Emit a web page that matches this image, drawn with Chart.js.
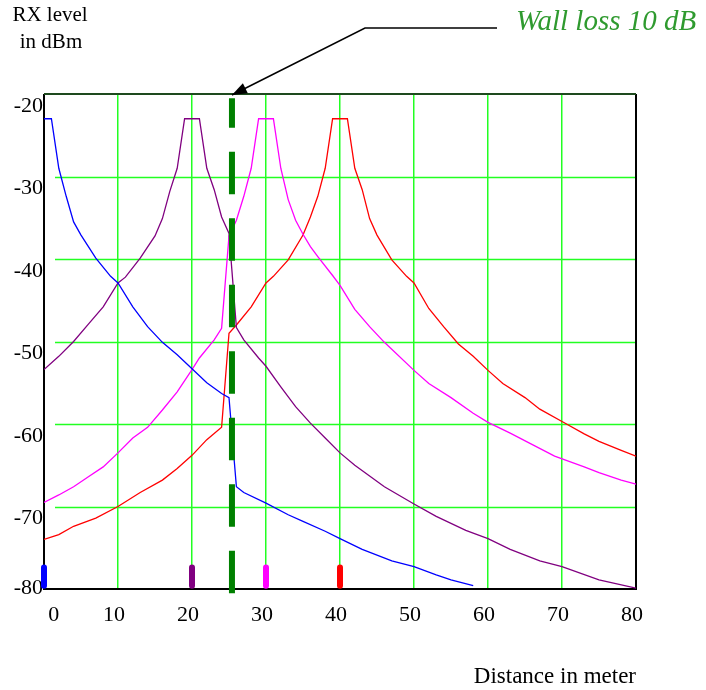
<!DOCTYPE html>
<html>
<head>
<meta charset="utf-8">
<script src="https://cdn.jsdelivr.net/npm/chart.js@4.4.0/dist/chart.umd.min.js"></script>
<style>
  html, body { margin: 0; padding: 0; background: #fff; }
  #wrap { width: 706px; height: 690px; position: relative; }
</style>
</head>
<body>
<div id="wrap"><canvas id="chart"></canvas></div>
<script>
// axis ranges / ticks
const xTicks = [0, 10, 20, 30, 40, 50, 60, 70, 80];
const yTicks = [-80, -70, -60, -50, -40, -30, -20];

// RX level (dBm) vs distance (m), one curve per transmitter
const blueDist = [0, 1, 2, 3, 4, 5, 6, 7, 9, 10, 12, 14, 16, 18, 20, 22, 24, 25, 26, 27, 30, 33, 35, 38, 40, 43, 47, 50, 53, 55, 58];
const blueLevel = [-23, -23, -29, -32.4, -35.5, -37.1, -38.5, -39.9, -42.1, -42.9, -45.8, -48.2, -50.1, -51.6, -53.3, -55.0, -56.3, -56.8, -67.6, -68.3, -69.6, -71.0, -71.8, -73.0, -73.9, -75.2, -76.6, -77.3, -78.3, -78.9, -79.6];

const purpleDist = [0, 2, 4, 6, 8, 10, 11, 13, 15, 16, 17, 18, 19, 21, 22, 23, 24, 25, 26, 27, 29, 30, 32, 34, 36, 38, 40, 42, 46, 50, 53, 57, 60, 63, 67, 70, 75, 80];
const purpleLevel = [-53.4, -51.8, -50.0, -47.9, -45.8, -42.9, -42.2, -39.9, -37.2, -35.1, -31.8, -29.0, -23, -23, -29.0, -31.6, -34.9, -36.9, -48.3, -49.8, -52.0, -53.0, -55.5, -57.9, -59.9, -61.7, -63.5, -65.0, -67.6, -69.7, -71.2, -72.9, -73.9, -75.2, -76.6, -77.3, -78.9, -79.9];

const magentaDist = [0, 2, 4, 6, 8, 10, 12, 14, 16, 18, 20, 21, 23, 24, 25, 26, 27, 28, 29, 31, 32, 33, 34, 35, 36, 37, 39, 40, 42, 44, 46, 50, 52, 55, 58, 60, 63, 66, 69, 73, 75, 78, 80];
const magentaLevel = [-69.5, -68.6, -67.6, -66.4, -65.2, -63.5, -61.7, -60.4, -58.3, -56.1, -53.4, -52.0, -49.8, -48.4, -37.2, -35.3, -32.4, -29.0, -23, -23, -29.0, -32.8, -35.3, -37.0, -38.5, -39.7, -42.0, -43.2, -46.1, -48.2, -50.1, -53.5, -55.1, -56.8, -58.7, -59.8, -61.1, -62.5, -63.9, -65.2, -65.9, -66.8, -67.3];

const redDist = [0, 2, 4, 7, 10, 13, 16, 18, 20, 22, 24, 25, 26, 28, 30, 31, 33, 35, 36, 37, 38, 39, 41, 42, 43, 44, 45, 47, 49, 50, 52, 54, 56, 58, 60, 62, 65, 67, 70, 73, 75, 78, 80];
const redLevel = [-74.0, -73.4, -72.4, -71.4, -70.0, -68.3, -66.8, -65.4, -63.8, -61.9, -60.4, -49.0, -48.0, -45.8, -42.9, -42.1, -40.1, -37.1, -34.9, -32.4, -29.0, -23, -23, -29.0, -31.6, -35.1, -37.1, -40.1, -42.1, -42.9, -46.0, -48.2, -50.3, -51.8, -53.5, -55.1, -56.8, -58.2, -59.7, -61.2, -62.1, -63.2, -63.9];

// transmitter positions (small bars on the bottom) and the wall
const txDist = [0, 20, 30, 40];
const txMarkLevel = [-79.6, -77.4];
const wallDist = 25.4;
const wallLevel = [-80.5, -20.5];

const curveColors = ["#0000ff", "#800080", "#ff00ff", "#ff0000"];
const wallColor = "#008000";
const gridColor = "#22ff22";
const serif = "'Liberation Serif', 'Times New Roman', serif";

const pts = (xs, ys) => xs.map((x, i) => ({ x: x, y: ys[i] }));

const curves = [
  pts(blueDist, blueLevel),
  pts(purpleDist, purpleLevel),
  pts(magentaDist, magentaLevel),
  pts(redDist, redLevel)
];

const datasets = [];

// wall - thick dashed line, on top of the curves
datasets.push({
  data: wallLevel.map(v => ({ x: wallDist, y: v })),
  borderColor: wallColor,
  borderWidth: 6,
  borderDash: [42.5, 24],
  borderCapStyle: "butt",
  pointRadius: 0,
  clip: false,
  order: 0
});

txDist.forEach((d, i) => {
  datasets.push({
    data: txMarkLevel.map(v => ({ x: d, y: v })),
    borderColor: curveColors[i],
    borderWidth: 6,
    borderCapStyle: "round",
    pointRadius: 0,
    clip: false,
    order: 0
  });
});

curves.forEach((c, i) => {
  datasets.push({
    data: c,
    borderColor: curveColors[i],
    borderWidth: 1.3,
    pointRadius: 0,
    tension: 0,
    order: 1
  });
});

// horizontal grid (starts a bit right of the left frame) + frame
const frameAndGrid = {
  id: "frameAndGrid",
  beforeDatasetsDraw(chart) {
    const { ctx, chartArea: a, scales: { y } } = chart;
    ctx.save();
    ctx.strokeStyle = gridColor;
    ctx.lineWidth = 1.5;
    y.ticks.forEach(t => {
      if (t.value <= y.min || t.value >= y.max) return;
      const py = Math.round(y.getPixelForValue(t.value)) + 0.5;
      ctx.beginPath();
      ctx.moveTo(a.left + 11, py);
      ctx.lineTo(a.right, py);
      ctx.stroke();
    });
    ctx.lineWidth = 2;
    ctx.strokeStyle = "#000";
    ctx.beginPath();
    ctx.moveTo(a.left, a.top);
    ctx.lineTo(a.left, a.bottom);
    ctx.lineTo(a.right, a.bottom);
    ctx.lineTo(a.right, a.top);
    ctx.stroke();
    ctx.strokeStyle = "#1e4a1e";
    ctx.beginPath();
    ctx.moveTo(a.left, a.top);
    ctx.lineTo(a.right, a.top);
    ctx.stroke();
    ctx.restore();
  }
};

// texts and the arrow pointing at the wall
const notes = {
  id: "notes",
  afterDraw(chart) {
    const { ctx, chartArea: a, scales: { x } } = chart;
    ctx.save();
    ctx.fillStyle = "#000";
    ctx.font = "21px " + serif;
    ctx.textAlign = "center";
    ctx.textBaseline = "middle";
    ctx.fillText("RX level", 50, 15);
    ctx.fillText("in dBm", 51, 42);
    ctx.font = "23px " + serif;
    ctx.textAlign = "right";
    ctx.fillText("Distance in meter", a.right, 677);

    ctx.fillStyle = "#2f9a2f";
    ctx.font = "italic 29px " + serif;
    ctx.textAlign = "left";
    ctx.fillText("Wall loss 10 dB", 516, 22);

    const tipX = x.getPixelForValue(wallDist);
    const tipY = a.top + 1;
    const elbowX = 365, elbowY = 28;
    ctx.strokeStyle = "#000";
    ctx.lineWidth = 1.5;
    ctx.beginPath();
    ctx.moveTo(497, elbowY);
    ctx.lineTo(elbowX, elbowY);
    ctx.lineTo(tipX, tipY);
    ctx.stroke();
    const ang = Math.atan2(tipY - elbowY, tipX - elbowX);
    const len = 15, half = 5.5;
    const bx = tipX - len * Math.cos(ang), by = tipY - len * Math.sin(ang);
    ctx.fillStyle = "#000";
    ctx.beginPath();
    ctx.moveTo(tipX, tipY);
    ctx.lineTo(bx + half * Math.sin(ang), by - half * Math.cos(ang));
    ctx.lineTo(bx - half * Math.sin(ang), by + half * Math.cos(ang));
    ctx.closePath();
    ctx.fill();
    ctx.restore();
  }
};

new Chart(document.getElementById("chart"), {
  type: "line",
  data: { datasets: datasets },
  options: {
    responsive: true,
    maintainAspectRatio: false,
    animation: false,
    layout: { padding: { top: 94, right: 70, bottom: 3, left: 0 } },
    plugins: { legend: { display: false }, tooltip: { enabled: false } },
    scales: {
      x: {
        type: "linear",
        min: xTicks[0],
        max: xTicks[xTicks.length - 1],
        afterBuildTicks: s => { s.ticks = xTicks.map(v => ({ value: v })); },
        afterFit: s => { s.height = 98; },
        grid: { color: gridColor, lineWidth: 1.5, drawTicks: false },
        border: { display: false },
        ticks: {
          color: "#000",
          font: { family: serif, size: 22 },
          padding: 13,
          labelOffset: -4,
          maxRotation: 0,
          // first label sits right of the frame corner in the original
          callback: v => (v === xTicks[0] ? "     " + v : String(v))
        }
      },
      y: {
        min: yTicks[0],
        max: yTicks[yTicks.length - 1],
        afterBuildTicks: s => { s.ticks = yTicks.map(v => ({ value: v })); },
        afterFit: s => { s.width = 44; },
        grid: { display: false, drawTicks: false },
        border: { display: false },
        ticks: {
          color: "#000",
          font: { family: serif, size: 22 },
          padding: 1,
          labelOffset: 12,
          callback: v => (v === yTicks[0] ? [String(v), ""] : String(v))
        }
      }
    }
  },
  plugins: [frameAndGrid, notes]
});
</script>
</body>
</html>
